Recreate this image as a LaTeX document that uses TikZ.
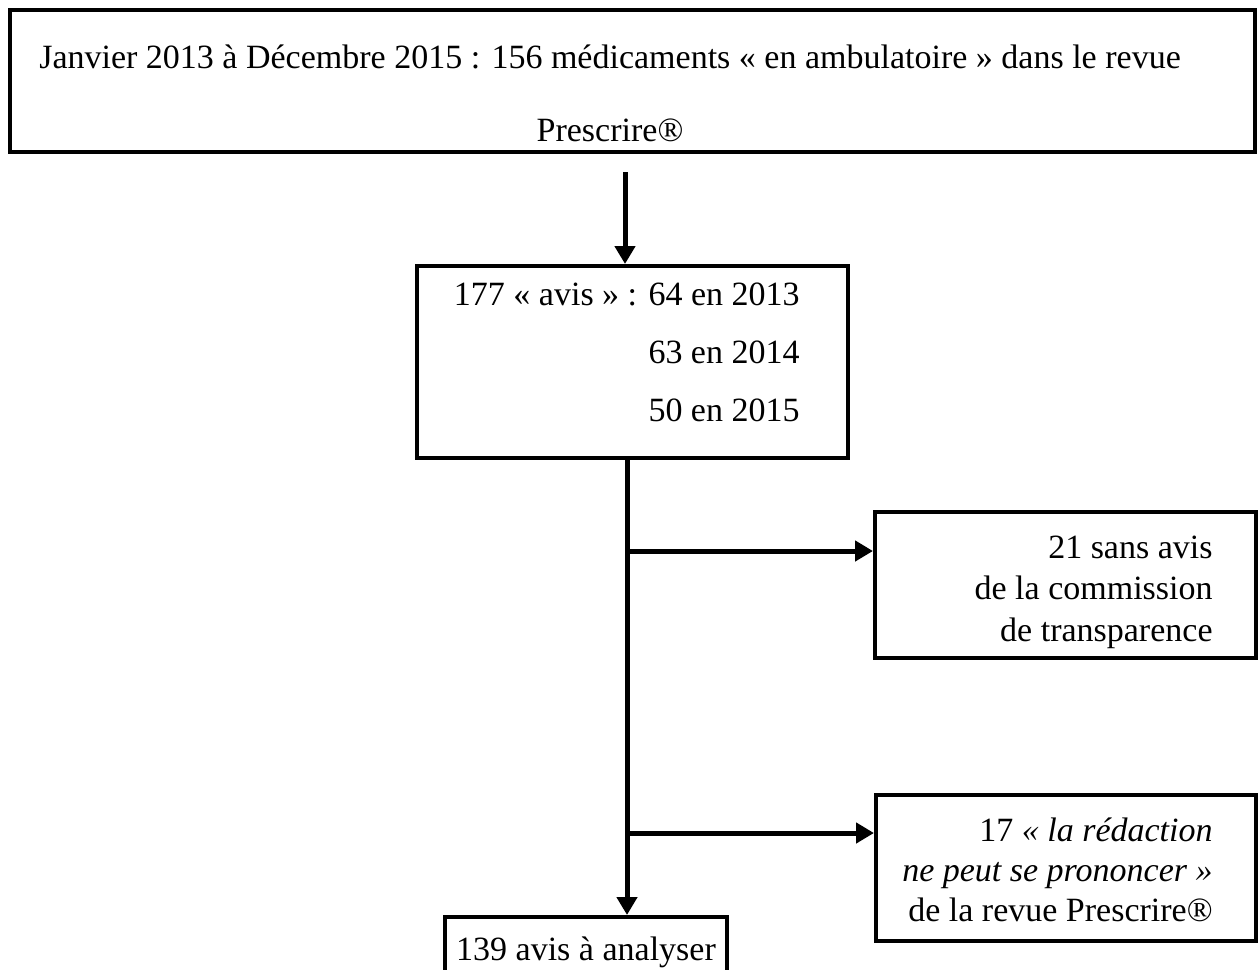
\documentclass[tikz,border=0pt]{standalone}
\usepackage{fontspec}
\setmainfont{Liberation Serif}
\usetikzlibrary{arrows.meta,positioning}

\tikzset{
  box/.style={draw,line width=2pt,inner sep=0pt},
  txt/.style={inner sep=0pt,align=right,font=\fontsize{17}{#1}\selectfont},
  flow/.style={line width=2.5pt,-{Triangle[length=9pt,width=10pt]}}
}

\begin{document}
\begin{tikzpicture}[x=0.5pt,y=-0.5pt]
	\useasboundingbox (0,0) rectangle (1258,969);

	% boxes
	\node[box,line width=2.3pt,minimum width=622.5pt,minimum height=71pt] (src) at (632.5,81) {};
	\node[txt=36.5pt,align=center] (srctxt) at (610,93) {Janvier 2013 à Décembre 2015 : 156 médicaments « en ambulatoire » dans le revue\\Prescrire®};

	\node[box,minimum width=215.5pt,minimum height=96pt] (stats) at (632.5,362) {};
	\node[txt=29pt,anchor=east] (statstxt) at (800,352) {177 « avis » : 64 en 2013\\63 en 2014\\50 en 2015};

	\node[box,minimum width=190.5pt,minimum height=73pt] (nc) at (1065.5,585) {};
	\node[txt=20.75pt,anchor=east] (nctxt) at (1213,592) {21 sans avis\\de la commission\\de transparence};

	\node[box,minimum width=190pt,minimum height=73pt] (nr) at (1066,868) {};
	\node[txt=20pt,anchor=east] (nrtxt) at (1213,870) {17 \textit{« la rédaction}\\\textit{ne peut se prononcer »}\\de la revue Prescrire®};

	\node[box,minimum width=141pt,minimum height=35pt,font=\fontsize{17}{20}\selectfont] (done) at (586,952) {139 avis à analyser};

	% arrows
	\coordinate (a1) at (625,172);
	\draw[flow] (a1) -- (a1 |- stats.north);
	\coordinate (tx) at (627,458);
	\draw[flow] (tx) -- (tx |- done.north);
	\coordinate (b1) at (630,551);
	\draw[flow] (b1) -- (b1 -| nc.west);
	\coordinate (b2) at (630,833);
	\draw[flow] (b2) -- (b2 -| nr.west);
\end{tikzpicture}
\end{document}
